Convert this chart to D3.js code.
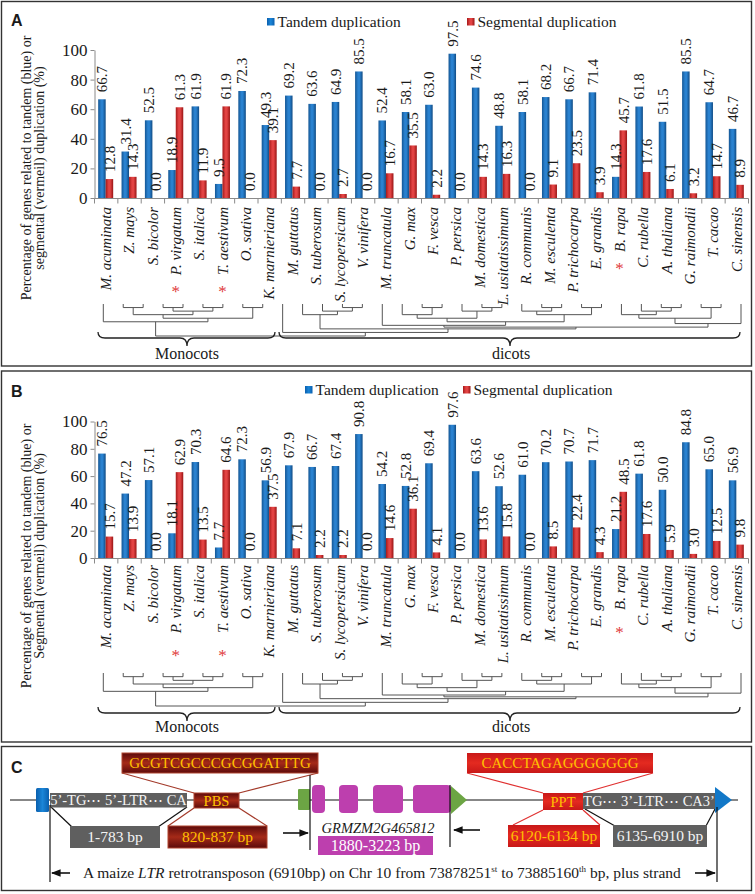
<!DOCTYPE html>
<html><head><meta charset="utf-8">
<script src="https://cdn.jsdelivr.net/npm/d3@7"></script>
<style>
body{margin:0;background:#fff}
svg{display:block}
text{font-family:"Liberation Serif","Times New Roman",serif;fill:#1a1a1a}
.lbl{font-family:"Liberation Sans",Arial,sans-serif;font-weight:bold}
</style>
</head><body><svg id="c" width="755" height="894"></svg>
<script>
// ---------------- data ----------------
const species = ["M. acuminata","Z. mays","S. bicolor","P. virgatum","S. italica","T. aestivum","O. sativa","K. marnieriana","M. guttatus","S. tuberosum","S. lycopersicum","V. vinifera","M. truncatula","G. max","F. vesca","P. persica","M. domestica","L. usitatissimum","R. communis","M. esculenta","P. trichocarpa","E. grandis","B. rapa","C. rubella","A. thaliana","G. raimondii","T. cacao","C. sinensis"];
const tandemA    = [66.7,31.4,52.5,18.9,61.9,9.5,72.3,49.3,69.2,63.6,64.9,85.5,52.4,58.1,63.0,97.5,74.6,48.8,58.1,68.2,66.7,71.4,14.3,61.8,51.5,85.5,64.7,46.7];
const segmentalA = [12.8,14.3,0.0,61.3,11.9,61.9,0.0,39.1,7.7,0.0,2.7,0.0,16.7,35.5,2.2,0.0,14.3,16.3,0.0,9.1,23.5,3.9,45.7,17.6,6.1,3.2,14.7,8.9];
const tandemB    = [76.5,47.2,57.1,18.1,70.3,7.7,72.3,56.9,67.9,66.7,67.4,90.8,54.2,52.8,69.4,97.6,63.6,52.6,61.0,70.2,70.7,71.7,21.2,61.8,50.0,84.8,65.0,56.9];
const segmentalB = [15.7,13.9,0.0,62.9,13.5,64.6,0.0,37.5,7.1,2.2,2.2,0.0,14.6,36.1,4.1,0.0,13.6,15.8,0.0,8.5,22.4,4.3,48.5,17.6,5.9,3.0,12.5,9.8];
const yTicks = [0,20,40,60,80,100];
const seriesNames = ["Tandem duplication","Segmental duplication"];
const starred = ["P. virgatum","T. aestivum","B. rapa"];
const groups = ["Monocots","dicots"];
const titleA = ["Percentage of genes related to tandem (blue) or","segmental (vermeil) duplication (%)"];
const titleB = ["Percentage of genes related to tandem (blue) or","Segmental (vermeil) duplication (%)"];
// cladogram topology: [joinLevel, child, child]; numbers = tree leaf slots
const cladogram = [9,
  [5, 0, [4, [3, [1,1,2], [2,[1,3,4],[1,5,6]]], [1,7,8]]],
  [8, 9, [7, [3, 10, [2, 11, [1,12,13]]],
            [6.5, [6, 14, [5, [4, [3, 15, [1,16,17]], [2, 18, [1,19,20]]], [3, [2, 21, [1,22,23]], [1,24,25]]]],
                  [5.5, [4, [3, 26, [2, 27, [1,28,29]]], [1,30,31]], 32]]]]];
const leafSlots = d3.range(33);

// ---------------- drawing ----------------
const svg = d3.select("#c");
const defs = svg.append("defs");
function grad(id, stops, vertical){
  const g = defs.append("linearGradient").attr("id",id)
    .attr("x1",0).attr("y1",0).attr("x2",vertical?0:1).attr("y2",vertical?1:0);
  stops.forEach(([o,c]) => g.append("stop").attr("offset",o).attr("stop-color",c));
}
grad("gBlue",[[0,"#145694"],[0.4,"#2a82d0"],[0.6,"#2a82d0"],[1,"#104b84"]]);
grad("gRed",[[0,"#a51919"],[0.4,"#e24343"],[0.6,"#e24343"],[1,"#981414"]]);
grad("gDark",[[0,"#5c0b0b"],[0.5,"#a52a18"],[1,"#5c0b0b"]],true);
grad("gBright",[[0,"#c81818"],[0.5,"#e42a20"],[1,"#c81818"]],true);
grad("gBlueSq",[[0,"#0a5fae"],[0.5,"#1b86d8"],[1,"#0a5fae"]]);

// frames
[[1.5,1.5,750,364.5],[1.5,371,750,371],[1.5,746.5,750,144]].forEach(([x,y,w,h]) =>
  svg.append("rect").attr("x",x).attr("y",y).attr("width",w).attr("height",h)
    .attr("fill","none").attr("stroke","#333").attr("stroke-width",1.4));

const x = d3.scaleBand().domain(species).range([94.5,748.5]).padding(0);
const bw = 7.5;
const leafX = d3.scalePoint().domain(leafSlots).range([103.3,741]);

function brace(g, x0, x1, cx, yTop, yFlat, yCusp){
  const r = 7;
  const p = `M${x0},${yTop} Q${x0},${yFlat} ${x0+r},${yFlat} L${cx-r},${yFlat} Q${cx},${yFlat} ${cx},${yCusp} Q${cx},${yFlat} ${cx+r},${yFlat} L${x1-r},${yFlat} Q${x1},${yFlat} ${x1},${yTop}`;
  g.append("path").attr("d",p).attr("fill","none").attr("stroke","#222").attr("stroke-width",1.3);
}

function drawTree(g, node, ly, leafTop){
  if (typeof node === "number") return {x: leafX(node), y: leafTop};
  const [lev, ...kids] = node;
  const pts = kids.map(k => drawTree(g, k, ly, leafTop));
  const yy = ly(lev);
  pts.forEach(p => g.append("line").attr("x1",p.x).attr("x2",p.x).attr("y1",p.y).attr("y2",yy));
  const xs = pts.map(p => p.x);
  g.append("line").attr("x1",d3.min(xs)).attr("x2",d3.max(xs)).attr("y1",yy).attr("y2",yy);
  return {x:(d3.min(xs)+d3.max(xs))/2, y:yy};
}

function panel(cfg){
  const g = svg.append("g");
  const y = d3.scaleLinear().domain([0,100]).range([cfg.y0, cfg.y100]);
  g.append("text").attr("class","lbl").attr("x",11).attr("y",cfg.letterY).attr("font-size",16).text(cfg.letter);
  const lg = [[cfg.leg1,"gBlueSq"],[cfg.leg2,"gRed"]];
  lg.forEach(([lx,fill],i) => {
    g.append("rect").attr("x",lx).attr("y",cfg.legY-4).attr("width",7.5).attr("height",7.5).attr("fill",`url(#${fill})`);
    g.append("text").attr("x",lx+10.5).attr("y",cfg.legY+5).attr("font-size",15.5).text(seriesNames[i]);
  });
  const ay = g.append("g").attr("transform",`translate(94.5,0)`)
    .call(d3.axisLeft(y).tickValues(yTicks).tickSize(4).tickSizeOuter(0).tickPadding(3));
  ay.select(".domain").attr("stroke","#8a8a8a");
  ay.selectAll(".tick line").attr("stroke","#8a8a8a");
  ay.selectAll(".tick text").attr("font-size",17).attr("font-family","Liberation Serif").attr("fill","#1a1a1a");
  g.append("line").attr("x1",94.5).attr("x2",748.5).attr("y1",cfg.y0+0.5).attr("y2",cfg.y0+0.5).attr("stroke","#8a8a8a");
  const bounds = species.map(s => x(s)).concat([x.range()[1]]);
  g.selectAll(".xt").data(bounds).join("line").attr("x1",d=>d).attr("x2",d=>d)
    .attr("y1",cfg.y0+0.5).attr("y2",cfg.y0+5.5).attr("stroke","#8a8a8a");
  const cx = s => x(s) + x.bandwidth()/2 - 0.5;
  g.selectAll(".bt").data(species).join("rect")
    .attr("x",d=>cx(d)-bw).attr("width",bw)
    .attr("y",(d,i)=>y(cfg.tandem[i])).attr("height",(d,i)=>cfg.y0-y(cfg.tandem[i]))
    .attr("fill","url(#gBlue)");
  g.selectAll(".bs").data(species).join("rect")
    .attr("x",d=>cx(d)).attr("width",bw)
    .attr("y",(d,i)=>y(cfg.seg[i])).attr("height",(d,i)=>cfg.y0-y(cfg.seg[i]))
    .attr("fill","url(#gRed)");
  const vl = (arr, off) => g.selectAll(null).data(species).join("text")
    .attr("transform",(d,i)=>`translate(${cx(d)+off},${y(arr[i])-7}) rotate(-90)`)
    .attr("dy","0.35em").attr("font-size",15).text((d,i)=>arr[i].toFixed(1));
  vl(cfg.tandem, -bw/2);
  vl(cfg.seg, bw/2);
  const cl = g.selectAll(".cl").data(species).join("text")
    .attr("transform",d=>`translate(${cx(d)},${cfg.labTop}) rotate(-90)`)
    .attr("dy","0.35em").attr("text-anchor","end").attr("font-size",15).attr("font-style","italic").text(d=>d);
  cl.each(function(d){
    if (!starred.includes(d)) return;
    const len = this.getComputedTextLength();
    g.append("text").attr("x",cx(d)).attr("y",cfg.labTop+len+cfg.starGap+8)
      .attr("text-anchor","middle").attr("font-size",17).style("fill","#e03a3a").text("*");
  });
  cfg.title.forEach((t,i) => g.append("text")
    .attr("transform",`translate(${i?39:26},${cfg.titleC}) rotate(-90)`)
    .attr("dy","0.35em").attr("text-anchor","middle").attr("font-size",14).text(t));
  const tg = g.append("g").attr("stroke","#555").attr("stroke-width",1);
  const ly = d3.scaleLinear().domain([0,9]).range([cfg.treeTop, cfg.treeRoot]);
  drawTree(tg, cladogram, ly, cfg.treeTop);
  brace(g, 98, 275, 187, cfg.braceY, cfg.braceY+6, cfg.braceY+14);
  brace(g, 279, 740, 510, cfg.braceY, cfg.braceY+6, cfg.braceY+14);
  g.append("text").attr("x",187).attr("y",cfg.groupY).attr("text-anchor","middle").attr("font-size",16).text(groups[0]);
  g.append("text").attr("x",511).attr("y",cfg.groupY).attr("text-anchor","middle").attr("font-size",16).text(groups[1]);
}

panel({letter:"A", letterY:26, leg1:267, leg2:467, legY:22, y0:198, y100:50,
  tandem:tandemA, seg:segmentalA, labTop:207, starGap:14, title:titleA, titleC:168,
  treeTop:304, treeRoot:336, braceY:332, groupY:359});
panel({letter:"B", letterY:397, leg1:305, leg2:463, legY:390, y0:558, y100:421.5,
  tandem:tandemB, seg:segmentalB, labTop:565, starGap:20, title:titleB, titleC:556,
  treeTop:673, treeRoot:706, braceY:707, groupY:732});

// ---------------- panel C ----------------
const C = svg.append("g");
const ltrBoxes = [
  {x:50, y:793, w:137, h:14.5, fill:"#5f5f5f", tc:"#f4f4f4", t:"5’-TG⋯ 5’-LTR⋯ CA", fs:14.5},
  {x:583, y:793, w:132, h:16, fill:"#5f5f5f", tc:"#f4f4f4", t:"TG⋯ 3’-LTR⋯ CA3’", fs:14.5},
  {x:70, y:826, w:90, h:22, fill:"#5f5f5f", tc:"#f4f4f4", t:"1-783  bp", fs:15.5},
  {x:613, y:825, w:94, h:22, fill:"#5f5f5f", tc:"#f4f4f4", t:"6135-6910 bp", fs:15.5},
  {x:194, y:793, w:45, h:15, fill:"url(#gDark)", tc:"#ffc000", t:"PBS", fs:14.5, st:"#b0442e"},
  {x:122, y:753, w:196, h:20, fill:"url(#gDark)", tc:"#ffc000", t:"GCGTCGCCCGCGGATTTG", fs:15, st:"#b0442e"},
  {x:168, y:826, w:99, h:22, fill:"url(#gDark)", tc:"#ffc000", t:"820-837 bp", fs:15.5, st:"#b0442e"},
  {x:543, y:793, w:40, h:17, fill:"url(#gBright)", tc:"#ffc000", t:"PPT", fs:14.5},
  {x:467, y:753, w:186, h:20, fill:"url(#gBright)", tc:"#ffc000", t:"CACCTAGAGGGGGGG", fs:15},
  {x:508, y:825, w:92, h:22, fill:"url(#gBright)", tc:"#ffc000", t:"6120-6134 bp", fs:15.5},
  {x:318, y:836, w:115, h:19, fill:"#bd3fae", tc:"#ffffff", t:"1880-3223 bp", fs:16}
];
C.append("line").attr("x1",10).attr("x2",738).attr("y1",800).attr("y2",800).attr("stroke","#111").attr("stroke-width",1.2);
const conn = [
  [122,773,194,793,"#a33a2a"],[318,773,239,793,"#a33a2a"],[194,808,168,826,"#a33a2a"],[239,808,267,826,"#a33a2a"],
  [467,773,543,793,"#e03030"],[653,773,583,793,"#e03030"],[543,810,513,825,"#e03030"],[583,810,600,825,"#e03030"],
  [51,807,72,827,"#111"],[187,807,158,827,"#111"],[585,809,615,826,"#111"],[715,809,706,826,"#111"]
];
conn.forEach(([a,b,c,d,col]) => C.append("line").attr("x1",a).attr("y1",b).attr("x2",c).attr("y2",d).attr("stroke",col).attr("stroke-width",1.2));
C.append("rect").attr("x",36).attr("y",788).attr("width",13).attr("height",24).attr("rx",1.5).attr("fill","url(#gBlueSq)");
C.append("rect").attr("x",298).attr("y",789).attr("width",12).attr("height",21).attr("rx",1).attr("fill","#6ca544");
const exons = [[312,325],[339,358],[373,403],[413,451]];
exons.forEach(([a,b]) => C.append("rect").attr("x",a).attr("y",785).attr("width",b-a).attr("height",28).attr("rx",4).attr("fill","#bd3fae"));
C.append("path").attr("d","M451,786 L467,800 L451,814 Z").attr("fill","#6ca544");
C.append("path").attr("d","M715,787 L732,800 L715,813 Z").attr("fill","#1278c8");
ltrBoxes.forEach(b => {
  C.append("rect").attr("x",b.x).attr("y",b.y).attr("width",b.w).attr("height",b.h).attr("fill",b.fill)
    .attr("stroke",b.st||"none").attr("stroke-width",1);
  C.append("text").attr("x",b.x+b.w/2).attr("y",b.y+b.h/2).attr("dy","0.35em").attr("text-anchor","middle")
    .attr("font-size",b.fs).style("fill",b.tc).text(b.t);
});
[[50,805,882],[310,775,850],[450,785,847],[717,807,882]].forEach(([xx,a,b]) =>
  C.append("line").attr("x1",xx).attr("x2",xx).attr("y1",a).attr("y2",b).attr("stroke","#111").attr("stroke-width",1.2));
defs.append("marker").attr("id","ah").attr("viewBox","0 0 10 10").attr("refX",9).attr("refY",5)
  .attr("markerWidth",6).attr("markerHeight",6).attr("orient","auto")
  .append("path").attr("d","M0,1 L10,5 L0,9 Z").attr("fill","#111");
[[70,873,52,873],[695,873,715,873],[283,833,308,833],[480,830,454,830]].forEach(([a,b,c,d]) =>
  C.append("line").attr("x1",a).attr("y1",b).attr("x2",c).attr("y2",d).attr("stroke","#111").attr("stroke-width",1.6).attr("marker-end","url(#ah)"));
C.append("text").attr("x",378).attr("y",833).attr("text-anchor","middle").attr("font-size",14.5).attr("font-style","italic").text("GRMZM2G465812");
const cap = C.append("text").attr("x",83).attr("y",878).attr("font-size",15.5);
cap.append("tspan").text("A maize ");
cap.append("tspan").attr("font-style","italic").text("LTR");
cap.append("tspan").text(" retrotransposon (6910bp) on Chr 10 from 73878251");
cap.append("tspan").attr("font-size",9).attr("dy",-6).text("st");
cap.append("tspan").attr("dy",6).text(" to 73885160");
cap.append("tspan").attr("font-size",9).attr("dy",-6).text("th");
cap.append("tspan").attr("dy",6).text(" bp, plus strand");
C.append("text").attr("class","lbl").attr("x",11).attr("y",773).attr("font-size",16).text("C");
</script>
</body></html>
